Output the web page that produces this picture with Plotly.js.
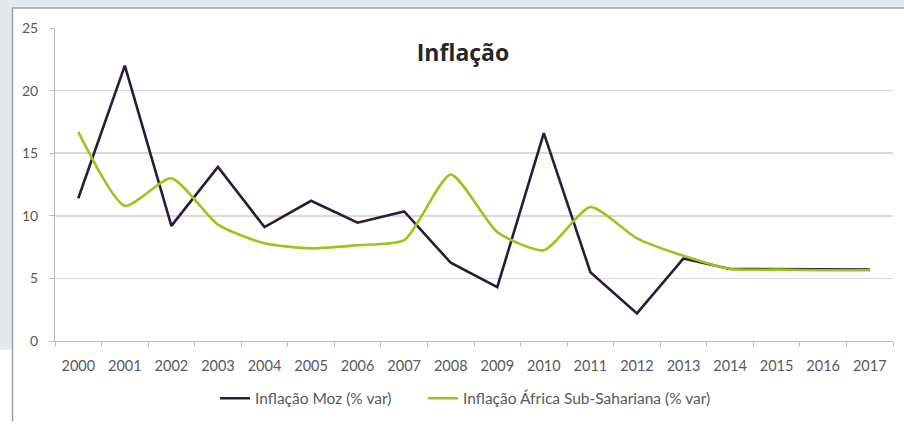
<!DOCTYPE html>
<html><head><meta charset="utf-8">
<script src="https://cdn.plot.ly/plotly-3.0.1.min.js"></script>
<style>html,body{margin:0;padding:0;background:#fff}#c{width:904px;height:427px}</style>
</head><body><div id="c"></div>
<script>
const years = ['2000','2001','2002','2003','2004','2005','2006','2007','2008','2009','2010','2011','2012','2013','2014','2015','2016','2017'];
const mozInflation = [11.4, 22.0, 9.2, 13.9, 9.1, 11.2, 9.45, 10.35, 6.25, 4.3, 16.6, 5.5, 2.2, 6.6, 5.75, 5.75, 5.7, 5.7];
const ssaInflation = [16.7, 10.8, 13.0, 9.3, 7.8, 7.4, 7.65, 8.05, 13.3, 8.7, 7.25, 10.7, 8.2, 6.8, 5.75, 5.7, 5.65, 5.65];
const seriesNames = ['Inflação Moz (% var)', 'Inflação África Sub-Sahariana (% var)'];
const yTicks = [0, 5, 10, 15, 20, 25];

const font = "Lato, 'Open Sans', sans-serif";
const traces = [
  {x: years, y: mozInflation, name: seriesNames[0], type: 'scatter', mode: 'lines', legend: 'legend',
   line: {color: '#2b1a3c', width: 2.6}},
  {x: years, y: ssaInflation, name: seriesNames[1], type: 'scatter', mode: 'lines', legend: 'legend2',
   line: {color: '#9dc41c', width: 2.6, shape: 'spline', smoothing: 0.6}}
];
const L = 55, R = 893, T = 28, B = 348;
const px = v => (v - L) / (R - L);
const py = v => (B - v) / (B - T);
const legendFont = {family: font, size: 15.5, color: '#595959'};
const layout = {
  width: 904, height: 427,
  margin: {l: L, r: 904 - R, t: T, b: 427 - B},
  paper_bgcolor: '#ffffff', plot_bgcolor: '#ffffff',
  font: {family: font, size: 14, color: '#595959'},
  title: {text: '<b>Inflação</b>', font: {family: "'Open Sans', sans-serif", size: 23, color: '#262626'},
          x: px(463), xref: 'paper', xanchor: 'center', y: py(53), yref: 'paper', yanchor: 'middle'},
  xaxis: {type: 'category', range: [-0.5, 17.5], tickson: 'boundaries', ticks: 'outside', ticklen: 5, tickcolor: '#bfbfbf',
          showline: true, linecolor: '#bfbfbf', linewidth: 1, showgrid: false, zeroline: false,
          tickfont: {family: font, size: 14.5, color: '#595959'}, ticklabelstandoff: 12},
  yaxis: {range: [0, 25], tickvals: yTicks, ticks: 'outside', ticklen: 5, tickcolor: '#bfbfbf',
          showline: true, linecolor: '#bfbfbf', linewidth: 1, gridcolor: '#d9d9d9', gridwidth: 1.5,
          zeroline: false, tickfont: {family: font, size: 14, color: '#595959'}, ticklabelstandoff: 8},
  legend: {orientation: 'h', x: px(215), xanchor: 'left', y: py(407), yanchor: 'middle',
           font: legendFont, itemwidth: 30},
  legend2: {orientation: 'h', x: px(423), xanchor: 'left', y: py(407), yanchor: 'middle',
           font: legendFont, itemwidth: 30},
  showlegend: true,
  shapes: [
    {type: 'rect', xref: 'paper', yref: 'paper', x0: px(-2), x1: px(12), y0: py(357), y1: py(-2),
     fillcolor: '#e4e9ee', line: {width: 0}, layer: 'below'},
    {type: 'rect', xref: 'paper', yref: 'paper', x0: px(-2), x1: px(906), y0: py(7), y1: py(-2),
     fillcolor: '#e4e9ee', line: {width: 0}, layer: 'below'},
    {type: 'line', xref: 'paper', yref: 'paper', x0: px(12.5), x1: px(12.5), y0: py(7), y1: py(430),
     line: {color: '#a0a0a0', width: 1.5}},
    {type: 'line', xref: 'paper', yref: 'paper', x0: px(12), x1: px(906), y0: py(7.5), y1: py(7.5),
     line: {color: '#a0a0a0', width: 1.5}}
  ]
};
Plotly.newPlot('c', traces, layout, {displayModeBar: false, staticPlot: true});
</script></body></html>
